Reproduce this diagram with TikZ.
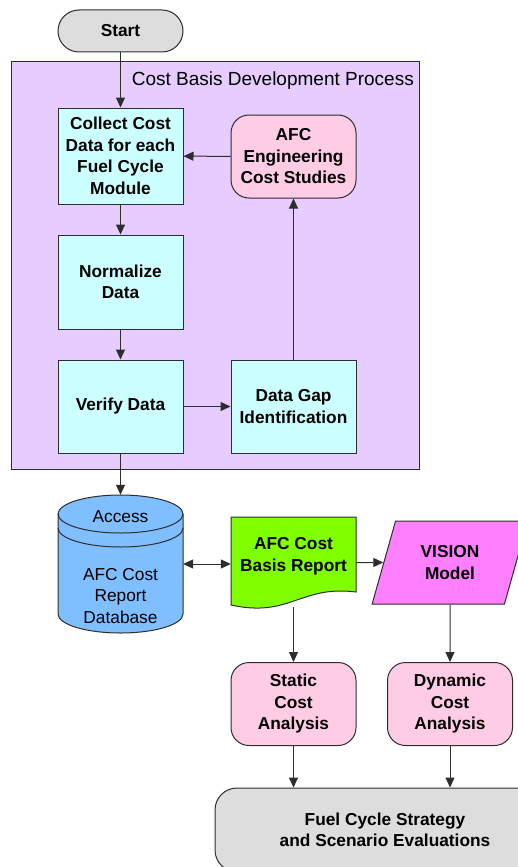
\documentclass[tikz,border=0pt]{standalone}
\usepackage{fontspec}
\setmainfont{Liberation Sans}
\usetikzlibrary{arrows.meta,shapes.geometric}
\definecolor{startgrey}{RGB}{221,221,221}
\definecolor{procfill}{RGB}{230,204,255}
\definecolor{stepfill}{RGB}{204,255,255}
\definecolor{studyfill}{RGB}{255,204,230}
\definecolor{dbfill}{RGB}{128,191,255}
\definecolor{reportfill}{RGB}{128,255,0}
\definecolor{visionfill}{RGB}{255,128,255}
\definecolor{edge}{RGB}{45,45,45}

\begin{document}
\begin{tikzpicture}[x=1pt,y=1pt,
  every node/.style={font=\fontsize{17.3}{21.5}\selectfont\bfseries,align=center,inner sep=0pt},
  stepbox/.style={draw=edge,line width=1pt,fill=stepfill,minimum width=125pt,minimum height=94pt},
  studybox/.style={draw=edge,line width=1pt,fill=studyfill,rounded corners=18pt,minimum width=125pt,minimum height=83pt},
  arr/.style={draw=edge,line width=1pt,-{Triangle[length=10pt,width=9pt]}}]
  \clip (0,0) rectangle (518,-867);

  % process frame
  \node[draw=edge,line width=1pt,fill=procfill,minimum width=408pt,minimum height=407pt] (proc) at (215,-265.5) {};
  \node[anchor=base east,font=\fontsize{19}{22}\selectfont] (proctitle) at (414,-85) {Cost Basis Development Process};

  \node[draw=edge,line width=1pt,fill=startgrey,rounded corners=21pt,minimum width=125pt,minimum height=42pt] (start) at (120.5,-31) {Start};

  \node[stepbox,minimum height=96pt] (collect) at (120.5,-156) {Collect Cost\\Data for each\\Fuel Cycle\\Module};
  \node[studybox] (afceng) at (293.5,-156.5) {AFC\\Engineering\\Cost Studies};
  \node[stepbox] (normalize) at (120.5,-282) {Normalize\\Data};
  \node[stepbox,minimum height=93pt] (verify) at (120.5,-406.5) {Verify Data};
  \node[stepbox,minimum height=93pt] (datagap) at (293.5,-406.5) {Data Gap\\Identification};

  % database cylinder
  \node[minimum width=125pt,minimum height=138pt] (db) at (120.5,-564) {};
  \filldraw[fill=dbfill,draw=edge,line width=1pt] (58,-514) -- (58,-614)
    arc[start angle=180,end angle=360,x radius=62.5,y radius=19] -- (183,-514)
    arc[start angle=0,end angle=180,x radius=62.5,y radius=19] -- cycle;
  \draw[edge,line width=1pt] (58,-514) arc[start angle=180,end angle=360,x radius=62.5,y radius=19];
  \draw[edge,line width=1pt] (58,-528) arc[start angle=180,end angle=360,x radius=62.5,y radius=19];
  \node[font=\fontsize{17.3}{21.5}\selectfont] (dbtop) at (120.5,-517) {Access};
  \node[font=\fontsize{17.3}{21.5}\selectfont] (dbtext) at (120.5,-596) {AFC Cost\\Report\\Database};

  % report document
  \filldraw[fill=reportfill,draw=edge,line width=1pt] (231,-517) -- (356,-517) -- (356,-592)
    .. controls (300,-585) and (290,-618) .. (231,-605) -- cycle;
  \node[minimum width=125pt,minimum height=78pt] (report) at (293.5,-556) {AFC Cost\\Basis Report};
  \coordinate (reportbot) at (293.5,-607);

  \node[trapezium,trapezium left angle=69.5,trapezium right angle=110.5,trapezium stretches=true,
    draw=edge,line width=1pt,fill=visionfill,minimum width=156pt,minimum height=83pt] (vision) at (450,-562.5) {VISION\\Model};

  \node[studybox] (static) at (293.5,-704) {Static\\Cost\\Analysis};
  \node[studybox] (dynamic) at (450,-704) {Dynamic\\Cost\\Analysis};
  \node[draw=edge,line width=1pt,fill=startgrey,rounded corners=22pt,minimum width=340pt,minimum height=84pt] (fuel) at (385,-830) {Fuel Cycle Strategy\\and Scenario Evaluations};

  \draw[arr] (start) -- (collect);
  \draw[arr] (collect) -- (normalize);
  \draw[arr] (normalize) -- (verify);
  \draw[arr] (afceng) -- (collect);
  \draw[arr] (verify) -- (datagap);
  \draw[arr] (datagap) -- (afceng);
  \draw[arr] (verify) -- (db);
  \draw[arr,{Triangle[length=10pt,width=9pt]}-{Triangle[length=10pt,width=9pt]}] (db.east) -- (db.east -| report.west);
  \draw[arr] (report.east |- vision) -- (vision);
  \draw[arr] (reportbot) -- (static);
  \draw[arr] (vision) -- (dynamic);
  \draw[arr] (static) -- (static |- fuel.north);
  \draw[arr] (dynamic) -- (dynamic |- fuel.north);
\end{tikzpicture}
\end{document}
